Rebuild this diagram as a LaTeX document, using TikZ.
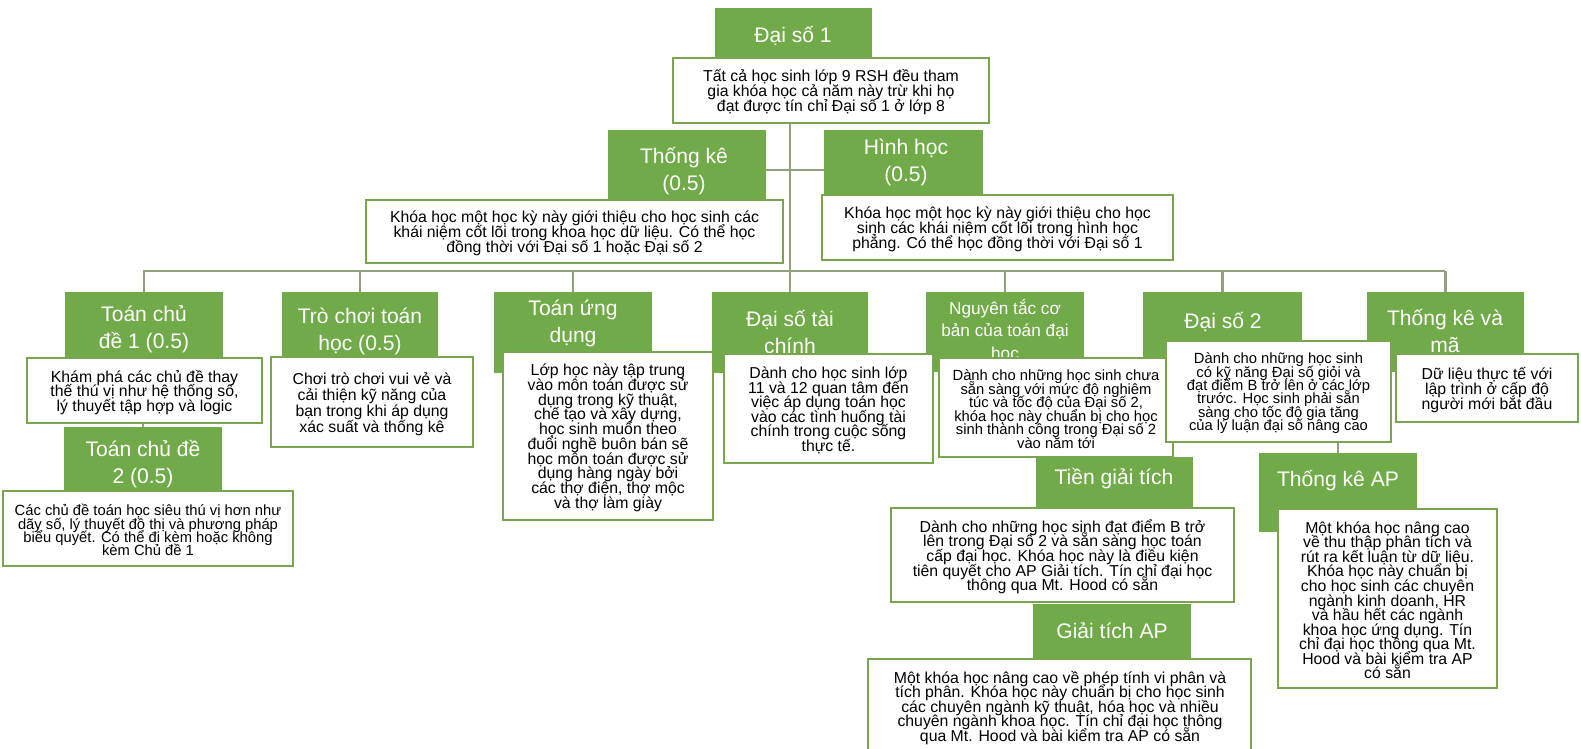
\documentclass[tikz,border=0pt]{standalone}
\usepackage{fontspec}
\setmainfont{Liberation Sans}
\usetikzlibrary{fit,backgrounds}
\definecolor{gfill}{RGB}{113,170,72}
\definecolor{wline}{RGB}{120,165,78}
\definecolor{cline}{RGB}{145,160,125}
\newcommand{\myfs}[2]{\fontsize{#1}{#2}\selectfont\lineskiplimit=-20pt\lineskip=0pt}
\tikzset{
  gbox/.style={fill=gfill, draw=none, inner sep=0pt, outer sep=0pt},
  wbox/.style={fill=white, draw=wline, line width=0.85pt, inner sep=0pt},
  wtxt/.style={align=center, inner sep=0pt, yshift=-1pt, font={\myfs{9}{8.5}}},
  gtitle/.style={text=white, align=center, inner sep=0pt, yshift=-1.6pt, font={\myfs{12}{15.3}}},
  conn/.style={draw=cline, line width=1.5pt},
}
\begin{document}
\begin{tikzpicture}[x=0.02cm, y=-0.02cm]
\useasboundingbox (0,0) rectangle (1581,748);

% top
\node[gbox, fit={(715,8) (872,60)}] (n1g) {};
\node[gtitle] (t1) at (793,33) {Đại số 1};
\node[wbox, fit={(673,58) (989,123)}] (n1w) {};
\node[wtxt] (x1) at (n1w.center) {Tất cả học sinh lớp 9 RSH đều tham\\gia khóa học cả năm này trừ khi họ\\đạt được tín chỉ Đại số 1 ở lớp 8};

\node[gbox, fit={(608,130) (766,200)}] (n2g) {};
\node[gtitle] (t2) at (684,168) {Thống kê\\(0.5)};
\node[gbox, fit={(824,130) (983,196)}] (n3g) {};
\node[gtitle] (t3) at (906,160) {Hình học\\(0.5)};
\node[wbox, fit={(366,200) (783,263)}] (n2w) {};
\node[wtxt] (x2) at (n2w.center) {Khóa học một học kỳ này giới thiệu cho học sinh các\\khái niệm cốt lõi trong khoa học dữ liệu. Có thể học\\đồng thời với Đại số 1 hoặc Đại số 2};
\node[wbox, fit={(822,195) (1173,260)}] (n3w) {};
\node[wtxt] (x3) at (n3w.center) {Khóa học một học kỳ này giới thiệu cho học\\sinh các khái niệm cốt lõi trong hình học\\phẳng. Có thể học đồng thời với Đại số 1};

% first row: green boxes
\node[gbox, fit={(65,292) (223,372)}] (n4g) {};
\node[gbox, fit={(282,292) (438,372)}] (n6g) {};
\node[gbox, fit={(494,292) (652,373)}] (n7g) {};
\node[gbox, fit={(712,292) (868,373)}] (n8g) {};
\node[gbox, fit={(926,292) (1084,372)}] (n9g) {};
\node[gbox, fit={(1143,292) (1302,372)}] (n10g) {};
\node[gbox, fit={(1367,292) (1524,372)}] (n11g) {};

\node[gtitle] (t4) at (144,326) {Toán chủ\\đề 1 (0.5)};
\node[gtitle] (t6) at (360,329) {Trò chơi toán\\học (0.5)};
\node[gtitle] (t7) at (573,321) {Toán ứng\\dụng};
\node[gtitle] (t8) at (790,329) {Đại số tài\\chính};
\node[gtitle, font={\myfs{9.8}{12.8}}] (t9) at (1005,328) {Nguyên tắc cơ\\bản của toán đại\\học};
\node[gtitle] (t10) at (1223,319) {Đại số 2};
\node[gtitle] (t11) at (1445,328) {Thống kê và\\mã};

% first row: white boxes
\node[wbox, fit={(27,358) (262,423)}] (n4w) {};
\node[wtxt, font={\myfs{9}{8.3}}] (x4) at (n4w.center) {Khám phá các chủ đề thay\\thế thú vị như hệ thống số,\\lý thuyết tập hợp và logic};
\node[wbox, fit={(271,357) (473,447)}] (n6w) {};
\node[wtxt, font={\myfs{9}{9.1}}] (x6) at (n6w.center) {Chơi trò chơi vui vẻ và\\cải thiện kỹ năng của\\bạn trong khi áp dụng\\xác suất và thống kê};
\node[wbox, fit={(503,352) (713,520)}] (n7w) {};
\node[wtxt, font={\myfs{9}{8.4}}] (x7) at (n7w.center) {Lớp học này tập trung\\vào môn toán được sử\\dụng trong kỹ thuật,\\chế tạo và xây dựng,\\học sinh muốn theo\\đuổi nghề buôn bán sẽ\\học môn toán được sử\\dụng hàng ngày bởi\\các thợ điện, thợ mộc\\và thợ làm giày};
\node[wbox, fit={(724,354) (933,463)}] (n8w) {};
\node[wtxt, font={\myfs{9}{8.3}}] (x8) at (n8w.center) {Dành cho học sinh lớp\\11 và 12 quan tâm đến\\việc áp dụng toán học\\vào các tình huống tài\\chính trong cuộc sống\\thực tế.};
\node[wbox, fit={(939,358) (1173,457)}] (n9w) {};
\node[wtxt, font={\myfs{8.4}{7.7}}] (x9) at (n9w.center) {Dành cho những học sinh chưa\\sẵn sàng với mức độ nghiêm\\túc và tốc độ của Đại số 2,\\khóa học này chuẩn bị cho học\\sinh thành công trong Đại số 2\\vào năm tới};
\node[wbox, fit={(1166,341) (1391,442)}] (n10w) {};
\node[wtxt, font={\myfs{8.4}{7.6}}] (x10) at (n10w.center) {Dành cho những học sinh\\có kỹ năng Đại số giỏi và\\đạt điểm B trở lên ở các lớp\\trước. Học sinh phải sẵn\\sàng cho tốc độ gia tăng\\của lý luận đại số nâng cao};
\node[wbox, fit={(1396,354) (1578,422)}] (n11w) {};
\node[wtxt] (x11) at (n11w.center) {Dữ liệu thực tế với\\lập trình ở cấp độ\\người mới bắt đầu};

% second level
\node[gbox, fit={(64,427) (222,491)}] (n5g) {};
\node[gtitle] (t5) at (143,461) {Toán chủ đề\\2 (0.5)};
\node[wbox, fit={(3,491) (293,566)}] (n5w) {};
\node[wtxt, font={\myfs{8.4}{7.6}}] (x5) at (n5w.center) {Các chủ đề toán học siêu thú vị hơn như\\dãy số, lý thuyết đồ thị và phương pháp\\biểu quyết. Có thể đi kèm hoặc không\\kèm Chủ đề 1};

\node[gbox, fit={(1036,457) (1193,508)}] (n12g) {};
\node[gtitle] (t12) at (1114,476) {Tiền giải tích};
\node[wbox, fit={(891,508) (1234,602)}] (n12w) {};
\node[wtxt, font={\myfs{9}{8.3}}] (x12) at (n12w.center) {Dành cho những học sinh đạt điểm B trở\\lên trong Đại số 2 và sẵn sàng học toán\\cấp đại học. Khóa học này là điều kiện\\tiên quyết cho AP Giải tích. Tín chỉ đại học\\thông qua Mt. Hood có sẵn};

\node[gbox, fit={(1033,604) (1191,659)}] (n13g) {};
\node[gtitle] (t13) at (1112,628) {Giải tích AP};
\node[wbox, fit={(868,659) (1251,752)}] (n13w) {};
\node[wtxt, font={\myfs{9}{8.25}}] (x13) at (1060,706) {Một khóa học nâng cao về phép tính vi phân và\\tích phân. Khóa học này chuẩn bị cho học sinh\\các chuyên ngành kỹ thuật, hóa học và nhiều\\chuyên ngành khoa học. Tín chỉ đại học thông\\qua Mt. Hood và bài kiểm tra AP có sẵn};

\node[gbox, fit={(1259,453) (1417,532)}] (n14g) {};
\node[gtitle] (t14) at (1338,478) {Thống kê AP};
\node[wbox, fit={(1278,509) (1497,688)}] (n14w) {};
\node[wtxt, font={\myfs{9}{8.3}}] (x14) at (n14w.center) {Một khóa học nâng cao\\về thu thập phân tích và\\rút ra kết luận từ dữ liệu.\\Khóa học này chuẩn bị\\cho học sinh các chuyên\\ngành kinh doanh, HR\\và hầu hết các ngành\\khoa học ứng dụng. Tín\\chỉ đại học thông qua Mt.\\Hood và bài kiểm tra AP\\có sẵn};

% connectors
\coordinate (tr) at (790,271);
\coordinate (hy) at (0,170);
\coordinate (barL) at (143,271);
\coordinate (barR) at (1445,271);
\begin{scope}[on background layer]
\fill[white] (0,0) rectangle (1581,748);
\draw[conn] (tr |- n1w.south) -- (tr);
\draw[conn] (n2g.east |- hy) -- (n3g.west |- hy);
\draw[conn] (barL) -- (barR);
\draw[conn] (n4g.north) -- (n4g.north |- barL);
\draw[conn] (n6g.north) -- (n6g.north |- barL);
\draw[conn] (n7g.north) -- (n7g.north |- barL);
\draw[conn] (n8g.north) -- (n8g.north |- barL);
\draw[conn] (n9g.north) -- (n9g.north |- barL);
\draw[conn] (n10g.north) -- (n10g.north |- barL);
\draw[conn] (n11g.north) -- (n11g.north |- barL);
\draw[conn] (n5g.north) -- (n5g.north |- n4w.south);
\draw[conn] (n14g.north) -- (n14g.north |- n10w.south);
\end{scope}
\end{tikzpicture}
\end{document}
